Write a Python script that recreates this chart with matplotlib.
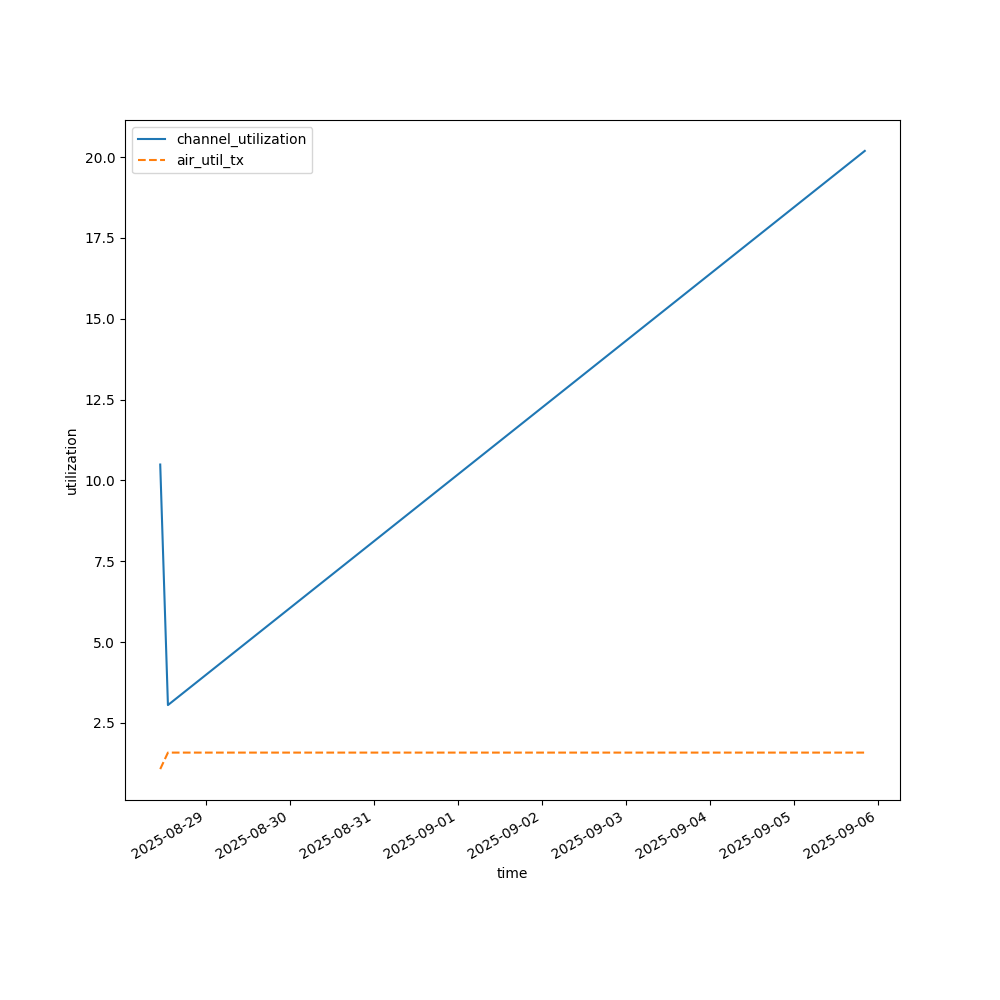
import matplotlib
matplotlib.use("Agg")
import matplotlib.pyplot as plt
import pandas as pd

times = pd.to_datetime(["2025-08-28 11:04", "2025-08-28 13:16", "2025-09-05 20:15"])
channel_utilization = [10.49, 3.05, 20.19]
air_util_tx = [1.07, 1.58, 1.58]

fig, ax = plt.subplots(figsize=(10, 10), dpi=100)
ax.plot(times, channel_utilization, label="channel_utilization")
ax.plot(times, air_util_tx, linestyle="--", label="air_util_tx")
ax.set_xlabel("time")
ax.set_ylabel("utilization")
ax.legend(loc="upper left")
fig.autofmt_xdate()
fig.savefig("out.png")
